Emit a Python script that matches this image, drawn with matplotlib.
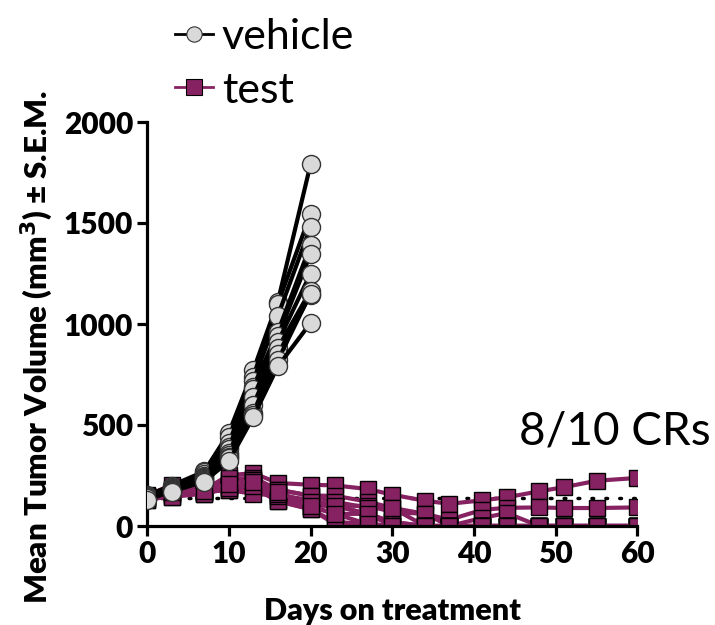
"""
Tumor growth spaghetti plot: vehicle vs test, individual mice.
"""

import matplotlib

matplotlib.use("Agg")
import matplotlib.pyplot as plt
from matplotlib.lines import Line2D

plt.rcParams["font.family"] = ["Lato", "DejaVu Sans"]

# data
vehicle_days = [0, 3, 7, 10, 13, 16, 20]
vehicle_mice = [
    [150, 200, 270, 460, 770, 1110, 1790],
    [155, 195, 265, 440, 740, 1100, 1545],
    [145, 190, 255, 410, 720, 1040, 1480],
    [150, 185, 250, 390, 690, 960, 1390],
    [140, 185, 245, 380, 680, 940, 1345],
    [150, 180, 240, 360, 640, 910, 1250],
    [135, 180, 235, 350, 600, 880, 1165],
    [145, 175, 230, 340, 560, 850, 1145],
    [140, 175, 225, 335, 550, 820, 1150],
    [130, 170, 220, 320, 540, 790, 1005],
]

test_days = [0, 3, 7, 10, 13, 16, 20, 23, 27, 30, 34, 37, 41, 44, 48, 51, 55, 60]
test_mice = [
    [150, 204, 180, 251, 262, 213, 204, 201, 183, 155, 125, 110, 127, 142, 172, 192, 224, 238],
    [145, 190, 170, 230, 240, 180, 150, 150, 120, 90, 60, 31, 80, 90, 92, 89, 89, 92],
    [140, 180, 175, 240, 230, 150, 100, 100, 100, 70, 60, 0, 40, 64, 0, 0, 0, 0],
    [155, 170, 165, 200, 210, 130, 95, 60, 60, 20, 0, 0, 0, 0, 0, 0, 0, 0],
    [135, 160, 160, 190, 200, 125, 83, 20, 10, 0, 0, 0, 0, 0, 0, 0, 0, 0],
    [127, 150, 165, 180, 190, 122, 83, 10, 0, 0, 0, 0, 0, 0, 0, 0, 0, 0],
    [150, 145, 175, 177, 160, 150, 130, 100, 60, 20, 0, 0, 0, 0, 0, 0, 0, 0],
    [130, 160, 170, 200, 230, 180, 150, 120, 90, 90, 0, 0, 0, 0, 0, 0, 0, 0],
    [140, 144, 160, 190, 200, 160, 120, 100, 60, 0, 0, 0, 0, 0, 0, 0, 0, 0],
    [150, 170, 175, 210, 220, 170, 100, 60, 10, 0, 0, 0, 0, 0, 0, 0, 0, 0],
]

reference_volume = 137
cr_text = "8/10 CRs"

PURPLE = "#862262"
GREY = "#d9d9d9"


def main():
    fig = plt.figure(figsize=(7.15, 6.25), dpi=100)
    ax = fig.add_axes([0.2056, 0.1584, 0.686, 0.6464])

    ax.plot([0, 60], [reference_volume, reference_volume], color="black",
            linestyle=(0, (0.5, 3.5)), linewidth=2.5, dash_capstyle="round", zorder=1)

    for mouse in test_mice:
        ax.plot(test_days, mouse, color=PURPLE, linewidth=3, marker="s",
                markersize=12, markerfacecolor=PURPLE, markeredgecolor="black",
                markeredgewidth=1.0, zorder=2)

    for mouse in vehicle_mice:
        ax.plot(vehicle_days, mouse, color="black", linewidth=3, marker="o",
                markersize=13, markerfacecolor=GREY, markeredgecolor="#333333",
                markeredgewidth=1.0, zorder=3)

    ax.set_xlim(0, 60)
    ax.set_ylim(0, 2000)
    ax.set_xticks(range(0, 61, 10))
    ax.set_yticks(range(0, 2001, 500))

    for side in ["top", "right"]:
        ax.spines[side].set_visible(False)
    for side in ["left", "bottom"]:
        ax.spines[side].set_linewidth(2.3)
    ax.tick_params(width=2.3, length=7, labelsize=21.5, pad=3)
    for label in ax.get_xticklabels() + ax.get_yticklabels():
        label.set_fontweight("heavy")

    fig.text(0.052, 0.445, "Mean Tumor Volume (mm$^{\\mathbf{3}}$) \u00b1 S.E.M.",
             rotation=90, ha="center", va="center", fontsize=22.5, fontweight="heavy")
    fig.text(0.549, 0.022, "Days on treatment", ha="center", va="center",
             fontsize=22, fontweight="heavy")

    fig.text(0.860, 0.309, cr_text, ha="center", va="center", fontsize=33)

    handles = [
        Line2D([], [], color="black", linewidth=2, marker="o", markersize=11,
               markerfacecolor=GREY, markeredgecolor="#333333", markeredgewidth=0.8),
        Line2D([], [], color=PURPLE, linewidth=2, marker="s", markersize=11,
               markerfacecolor=PURPLE, markeredgecolor="black", markeredgewidth=0.8),
    ]
    fig.legend(handles, ["vehicle", "test"], loc="upper left",
               bbox_to_anchor=(0.22, 0.998), frameon=False, fontsize=31,
               handlelength=0.9, handletextpad=0.2, labelspacing=0.35,
               borderaxespad=0)

    fig.savefig("out.png", dpi=100)
    plt.close(fig)


if __name__ == "__main__":
    main()
